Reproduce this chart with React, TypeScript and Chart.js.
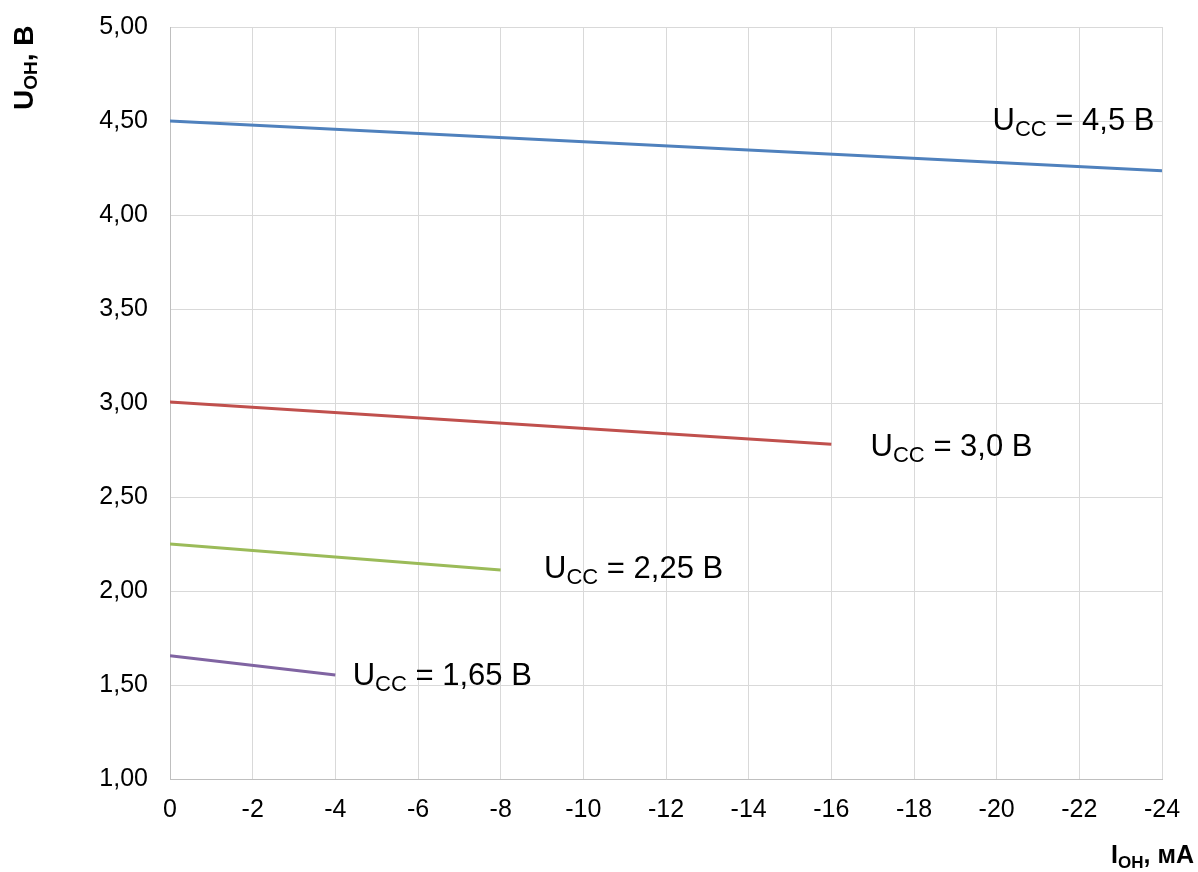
import React, { useEffect, useRef } from "react";
import { Chart, registerables } from "chart.js";

Chart.register(...registerables);

// ---- data ----
const seriesSupply = ["4,5", "3,0", "2,25", "1,65"];
const currents45 = [0, -24];
const voltages45 = [4.5, 4.235];
const currents30 = [0, -16];
const voltages30 = [3.005, 2.78];
const currents225 = [0, -8];
const voltages225 = [2.25, 2.112];
const currents165 = [0, -4];
const voltages165 = [1.655, 1.553];
const seriesColors = ["#4F81BD", "#C0504D", "#9BBB59", "#8064A2"];

const FONT = "'Liberation Sans', Arial, Helvetica, sans-serif";

// label anchors (data units: left x of text, vertical centre)
const labelAnchorX = [-19.9, -16.95, -9.05, -4.42];
const labelAnchorY = [4.51, 2.775, 2.13, 1.56];

const toPoints = (xs: number[], ys: number[]) => xs.map((x, i) => ({ x, y: ys[i] }));

const annotPlugin = {
  id: "uccLabels",
  afterDraw(chart: any) {
    const ctx = chart.ctx as CanvasRenderingContext2D;
    const xs = chart.scales.x;
    const ys = chart.scales.y;
    ctx.save();
    ctx.fillStyle = "#000";
    ctx.textBaseline = "alphabetic";
    ctx.textAlign = "left";
    // series labels
    seriesSupply.forEach((s, i) => {
      const px = xs.getPixelForValue(labelAnchorX[i]);
      const py = ys.getPixelForValue(labelAnchorY[i]);
      const base = py + 11;
      let x = px;
      ctx.font = `31px ${FONT}`;
      ctx.fillText("U", x, base);
      x += ctx.measureText("U").width;
      ctx.font = `22px ${FONT}`;
      ctx.fillText("CC", x, base + 6);
      x += ctx.measureText("CC").width;
      ctx.font = `31px ${FONT}`;
      ctx.fillText(" = " + s + " В", x, base);
    });

    // y axis title (rotated)
    ctx.save();
    ctx.translate(33, 110);
    ctx.rotate(-Math.PI / 2);
    let x = 0;
    ctx.font = `bold 28px ${FONT}`;
    ctx.fillText("U", x, 0);
    x += ctx.measureText("U").width;
    ctx.font = `bold 19px ${FONT}`;
    ctx.fillText("OH", x, 4);
    x += ctx.measureText("OH").width;
    ctx.font = `bold 28px ${FONT}`;
    ctx.fillText(", В", x, 0);
    ctx.restore();

    // x axis title
    ctx.font = `bold 25px ${FONT}`;
    const wI = ctx.measureText("I").width;
    const wRest = ctx.measureText(", мА").width;
    ctx.font = `bold 17px ${FONT}`;
    const wSub = ctx.measureText("OH").width;
    let tx = 1194 - (wI + wSub + wRest);
    const tb = 863;
    ctx.font = `bold 25px ${FONT}`;
    ctx.fillText("I", tx, tb);
    tx += wI;
    ctx.font = `bold 17px ${FONT}`;
    ctx.fillText("OH", tx, tb + 5);
    tx += wSub;
    ctx.font = `bold 25px ${FONT}`;
    ctx.fillText(", мА", tx, tb);
    ctx.restore();
  },
};

export default function App() {
  const ref = useRef<HTMLCanvasElement | null>(null);

  useEffect(() => {
    if (!ref.current) return;
    const series = [
      toPoints(currents45, voltages45),
      toPoints(currents30, voltages30),
      toPoints(currents225, voltages225),
      toPoints(currents165, voltages165),
    ];
    const chart = new Chart(ref.current, {
      type: "scatter",
      data: {
        datasets: series.map((data, i) => ({
          label: "Ucc = " + seriesSupply[i] + " В",
          data,
          showLine: true,
          borderColor: seriesColors[i],
          backgroundColor: seriesColors[i],
          borderWidth: 3,
          pointRadius: 0,
          pointHoverRadius: 0,
          tension: 0,
        })),
      },
      options: {
        animation: false,
        responsive: true,
        maintainAspectRatio: false,
        layout: { autoPadding: false, padding: { left: 0, top: 27, right: 36, bottom: 0 } },
        plugins: {
          legend: { display: false },
          tooltip: { enabled: false },
          title: { display: false },
        },
        scales: {
          x: {
            type: "linear",
            min: -24,
            max: 0,
            reverse: true,
            afterFit: (s: any) => {
              s.height = 93;
              s.paddingLeft = 0;
              s.paddingRight = 0;
            },
            grid: { color: "#d9d9d9", lineWidth: 1, drawTicks: false },
            border: { display: true, color: "#bfbfbf", width: 1 },
            ticks: {
              stepSize: 2,
              padding: 16,
              color: "#000",
              font: { family: FONT, size: 25 },
              callback: (v: any) => String(v),
            },
          },
          y: {
            type: "linear",
            min: 1,
            max: 5,
            afterFit: (s: any) => {
              s.width = 170;
              s.paddingTop = 0;
              s.paddingBottom = 0;
            },
            grid: { color: "#d9d9d9", lineWidth: 1, drawTicks: false },
            border: { display: true, color: "#bfbfbf", width: 1 },
            ticks: {
              stepSize: 0.5,
              padding: 22,
              color: "#000",
              font: { family: FONT, size: 25 },
              callback: (v: any) => Number(v).toFixed(2).replace(".", ","),
            },
          },
        },
      },
      plugins: [annotPlugin],
    });
    return () => chart.destroy();
  }, []);

  return (
    <div style={{ position: "absolute", left: 0, top: 0, width: 1198, height: 872, background: "#fff" }}>
      <canvas ref={ref} />
    </div>
  );
}
